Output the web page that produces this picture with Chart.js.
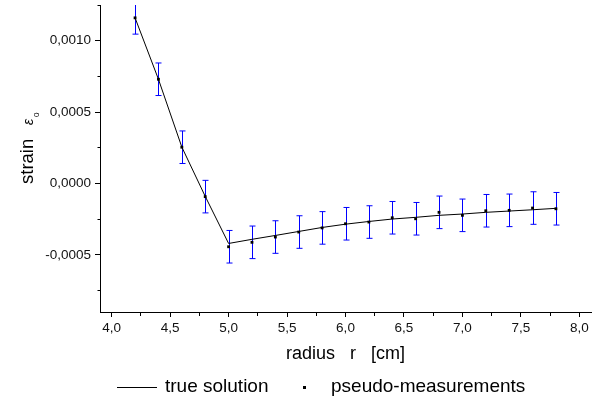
<!DOCTYPE html>
<html lang="en">
<head>
  <meta charset="utf-8">
  <title>strain vs radius</title>
  <style type="text/css">
    html, body { margin: 0; padding: 0; background: #fff; }
    .chart { width: 595px; height: 402px; }
  </style>
</head>
<body>
  <div class="chart">
    <canvas id="strainChart" width="595" height="402"></canvas>
  </div>

  <script src="https://cdn.jsdelivr.net/npm/chart.js"></script>
  <script>
    // radius of each pseudo-measurement [cm]
    const radius = [4.2, 4.4, 4.6, 4.8, 5.0, 5.2, 5.4, 5.6, 5.8, 6.0, 6.2, 6.4, 6.6, 6.8, 7.0, 7.2, 7.4, 7.6, 7.8];
    // pseudo-measurements (black squares)
    const pseudoMeasurements = [0.00116, 0.00073, 0.000254, -0.000092, -0.000443, -0.000412, -0.000375, -0.00034, -0.000311,
      -0.000282, -0.00027, -0.00024, -0.000247, -0.000202, -0.000223, -0.000191, -0.000188, -0.000172, -0.000177];
    // half length of the blue error bars
    const errorHalf = [0.000114, 0.000114, 0.000114, 0.000114, 0.000114, 0.000114, 0.000114, 0.000114, 0.000114, 0.000114,
      0.000114, 0.000114, 0.000114, 0.000114, 0.000114, 0.000114, 0.000114, 0.000114, 0.000114];
    // true solution (black line)
    const trueSolution = [0.00116, 0.00073, 0.000255, -0.00009, -0.00042, -0.000391, -0.000364, -0.000336, -0.000308,
      -0.000285, -0.000266, -0.000249, -0.000237, -0.000223, -0.000214, -0.000202, -0.000193, -0.000184, -0.000174];

    // labelled ticks (the others are minor ticks)
    const xLabelTicks = [4.0, 4.5, 5.0, 5.5, 6.0, 6.5, 7.0, 7.5, 8.0];
    const yLabelTicks = [-0.0005, 0.0, 0.0005, 0.0010];

    const FONT = "'Liberation Sans', Arial, sans-serif";

    function isLabelled(list, v) {
      return list.some(t => Math.abs(t - v) < 1e-9);
    }
    function commaNum(v, digits) {
      return v.toFixed(digits).replace('.', ',');
    }

    // blue error bars, drawn under the points
    const errorBars = {
      id: 'errorBars',
      beforeDatasetsDraw(chart) {
        const {ctx, chartArea, scales: {x, y}} = chart;
        ctx.save();
        ctx.beginPath();
        ctx.rect(chartArea.left, chartArea.top, chartArea.right - chartArea.left, chartArea.bottom - chartArea.top);
        ctx.clip();
        ctx.strokeStyle = '#0000ff';
        ctx.lineWidth = 1;
        radius.forEach((r, i) => {
          const px = Math.round(x.getPixelForValue(r)) + 0.5;
          const top = y.getPixelForValue(pseudoMeasurements[i] + errorHalf[i]);
          const bot = y.getPixelForValue(pseudoMeasurements[i] - errorHalf[i]);
          ctx.beginPath();
          ctx.moveTo(px, top); ctx.lineTo(px, bot);
          ctx.moveTo(px - 3, top); ctx.lineTo(px + 3, top);
          ctx.moveTo(px - 3, bot); ctx.lineTo(px + 3, bot);
          ctx.stroke();
        });
        ctx.restore();
      }
    };

    // y title with subscript and the legend under the x title
    const extras = {
      id: 'extras',
      afterDraw(chart) {
        const ctx = chart.ctx;
        ctx.save();
        ctx.fillStyle = '#000';
        ctx.textAlign = 'left';

        // "strain  ε0" rotated
        ctx.save();
        ctx.translate(33, 184);
        ctx.rotate(-Math.PI / 2);
        ctx.textBaseline = 'alphabetic';
        ctx.font = '18.5px ' + FONT;
        ctx.fillText('strain', 0, 0);
        ctx.font = 'italic 14px ' + FONT;
        ctx.fillText('ε', 59, 0);
        ctx.font = '8px ' + FONT;
        ctx.fillText('0', 67, 6);
        ctx.restore();

        // legend
        const ly = 387;
        ctx.strokeStyle = '#000';
        ctx.lineWidth = 1;
        ctx.beginPath();
        ctx.moveTo(117, ly + 0.5);
        ctx.lineTo(157, ly + 0.5);
        ctx.stroke();
        ctx.fillRect(303, ly - 1, 3, 3);
        ctx.font = '19px ' + FONT;
        ctx.textBaseline = 'middle';
        ctx.fillText('true solution', 165, ly);
        ctx.fillText('pseudo-measurements', 331, ly);
        ctx.restore();
      }
    };

    const ctx = document.getElementById('strainChart').getContext('2d');
    const chart = new Chart(ctx, {
      type: 'scatter',
      data: {
        datasets: [{
          label: 'true solution',
          data: radius.map((r, i) => ({x: r, y: trueSolution[i]})),
          showLine: true,
          borderColor: '#000',
          borderWidth: 1,
          pointRadius: 0,
          tension: 0
        }, {
          label: 'pseudo-measurements',
          data: radius.map((r, i) => ({x: r, y: pseudoMeasurements[i]})),
          showLine: false,
          pointStyle: 'rect',
          pointRadius: 2,
          backgroundColor: '#000',
          borderWidth: 0
        }]
      },
      options: {
        responsive: false,
        animation: false,
        layout: { padding: { top: 5, right: 2, bottom: 37, left: 0 } },
        plugins: {
          legend: { display: false },
          tooltip: { enabled: false }
        },
        scales: {
          x: {
            type: 'linear',
            min: 3.9,
            max: 8.1,
            border: { display: true, color: '#000', width: 1 },
            grid: {
              drawOnChartArea: false,
              color: '#000',
              tickLength: 5,
              tickBorderDash: c => isLabelled(xLabelTicks, c.tick.value) ? [] : [3, 20]
            },
            ticks: {
              stepSize: 0.25,
              autoSkip: false,
              maxRotation: 0,
              includeBounds: false,
              padding: 3,
              color: '#111',
              font: { family: FONT, size: 13.5 },
              callback: v => isLabelled(xLabelTicks, v) ? commaNum(v, 1) : ''
            },
            title: {
              display: true,
              text: 'radius   r   [cm]',
              color: '#000',
              padding: 0,
              font: { family: FONT, size: 18 }
            },
            afterFit: s => { s.height = 53; s.paddingLeft = 0; s.paddingRight = 0; }
          },
          y: {
            type: 'linear',
            min: -0.0009,
            max: 0.00125,
            border: { display: true, color: '#000', width: 1 },
            grid: {
              drawOnChartArea: false,
              color: '#000',
              tickLength: 5,
              tickBorderDash: c => isLabelled(yLabelTicks, c.tick.value) ? [] : [0, 2.5, 10, 0]
            },
            ticks: {
              stepSize: 0.00025,
              autoSkip: false,
              includeBounds: false,
              padding: 4,
              color: '#111',
              font: { family: FONT, size: 13.5 },
              callback: v => isLabelled(yLabelTicks, v) ? commaNum(v, 4) : ''
            },
            afterFit: s => { s.width = 100; s.paddingTop = 0; s.paddingBottom = 0; }
          }
        }
      },
      plugins: [errorBars, extras]
    });
  </script>
</body>
</html>
